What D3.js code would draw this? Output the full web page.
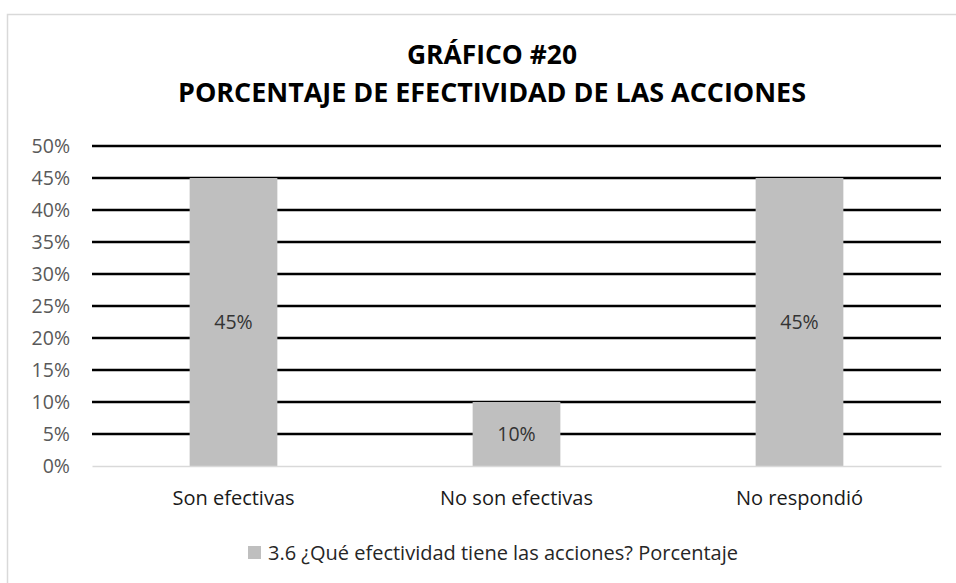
<!DOCTYPE html>
<html>
<head>
<meta charset="utf-8">
<script src="https://cdn.jsdelivr.net/npm/d3@7"></script>
<style>
  body { margin: 0; background: #fff; }
  svg { display: block; font-family: "Open Sans", Lato, sans-serif; }
</style>
</head>
<body>
<div id="chart"></div>
<script>
const WIDTH = 956;
const HEIGHT = 583;
const CATEGORIES = ['Son efectivas', 'No son efectivas', 'No respondió'];
const VALUES = [0.45, 0.10, 0.45];
const Y_TICKS = [0, 0.05, 0.10, 0.15, 0.20, 0.25, 0.30, 0.35, 0.40, 0.45, 0.50];
const TITLE_LINES = ['GRÁFICO #20', 'PORCENTAJE DE EFECTIVIDAD DE LAS ACCIONES'];
const SERIES_NAME = '3.6 ¿Qué efectividad tiene las acciones? Porcentaje';
const BAR_COLOR = '#bfbfbf';

const margin = { left: 92, right: 15, top: 146, bottom: 117 };

const svg = d3.select('#chart').append('svg')
  .attr('width', WIDTH)
  .attr('height', HEIGHT);

// chart frame
svg.append('rect')
  .attr('x', 7.5)
  .attr('y', 14.5)
  .attr('width', WIDTH)
  .attr('height', HEIGHT)
  .attr('fill', '#fff')
  .attr('stroke', '#d9d9d9')
  .attr('stroke-width', 1.5);

// title, squeezed to the width of the original lines
const titleWidths = [170, 628];
svg.selectAll('.title')
  .data(TITLE_LINES)
  .enter()
  .append('text')
  .attr('class', 'title')
  .attr('x', 492)
  .attr('y', (d, i) => 64 + i * 38)
  .attr('text-anchor', 'middle')
  .attr('font-size', 27.5)
  .attr('font-weight', 'bold')
  .attr('fill', '#000')
  .attr('textLength', (d, i) => titleWidths[i])
  .attr('lengthAdjust', 'spacingAndGlyphs')
  .text(d => d);

const x = d3.scaleBand()
  .domain(CATEGORIES)
  .range([margin.left, WIDTH - margin.right])
  .paddingInner(0.69)
  .paddingOuter(0.345);

const y = d3.scaleLinear()
  .domain([0, 0.5])
  .range([HEIGHT - margin.bottom, margin.top]);

// gridlines
svg.append('g')
  .selectAll('line')
  .data(Y_TICKS.filter(d => d > 0))
  .enter()
  .append('line')
  .attr('x1', margin.left)
  .attr('x2', WIDTH - margin.right)
  .attr('y1', d => y(d))
  .attr('y2', d => y(d))
  .attr('stroke', '#000')
  .attr('stroke-width', 2.5);

const yAxis = d3.axisLeft(y)
  .tickValues(Y_TICKS)
  .tickFormat(d3.format('.0%'))
  .tickSize(0)
  .tickPadding(22);

svg.append('g')
  .attr('transform', `translate(${margin.left}, 0)`)
  .call(yAxis)
  .call(g => g.select('.domain').remove())
  .selectAll('text')
  .attr('font-size', 19.5)
  .attr('font-family', '"Open Sans", sans-serif')
  .attr('fill', '#595959');

svg.append('g')
  .selectAll('rect')
  .data(VALUES)
  .enter()
  .append('rect')
  .attr('x', (d, i) => x(CATEGORIES[i]))
  .attr('y', d => y(d))
  .attr('width', x.bandwidth())
  .attr('height', d => y(0) - y(d))
  .attr('fill', BAR_COLOR);

svg.append('g')
  .selectAll('text')
  .data(VALUES)
  .enter()
  .append('text')
  .attr('x', (d, i) => x(CATEGORIES[i]) + x.bandwidth() / 2)
  .attr('y', d => (y(d) + y(0)) / 2)
  .attr('dy', '0.35em')
  .attr('text-anchor', 'middle')
  .attr('font-size', 19.5)
  .attr('fill', '#333')
  .text(d => d3.format('.0%')(d));

const xAxis = d3.axisBottom(x)
  .tickSize(0)
  .tickPadding(0);

svg.append('g')
  .attr('transform', `translate(0, ${y(0)})`)
  .call(xAxis)
  .call(g => g.select('.domain').attr('stroke', '#d9d9d9').attr('stroke-width', 1.5))
  .selectAll('text')
  .attr('y', 39)
  .attr('dy', null)
  .attr('font-size', 20)
  .attr('font-family', '"Open Sans", sans-serif')
  .attr('fill', '#1a1a1a');

// legend
const legend = svg.append('g')
  .attr('transform', 'translate(503, 560)');
const legendText = legend.append('text')
  .attr('text-anchor', 'middle')
  .attr('font-size', 20)
  .attr('fill', '#262626')
  .text(SERIES_NAME);
const bbox = legendText.node().getBBox();
legend.append('rect')
  .attr('x', bbox.x - 20)
  .attr('y', -14)
  .attr('width', 13)
  .attr('height', 13)
  .attr('fill', BAR_COLOR);
</script>
</body>
</html>
